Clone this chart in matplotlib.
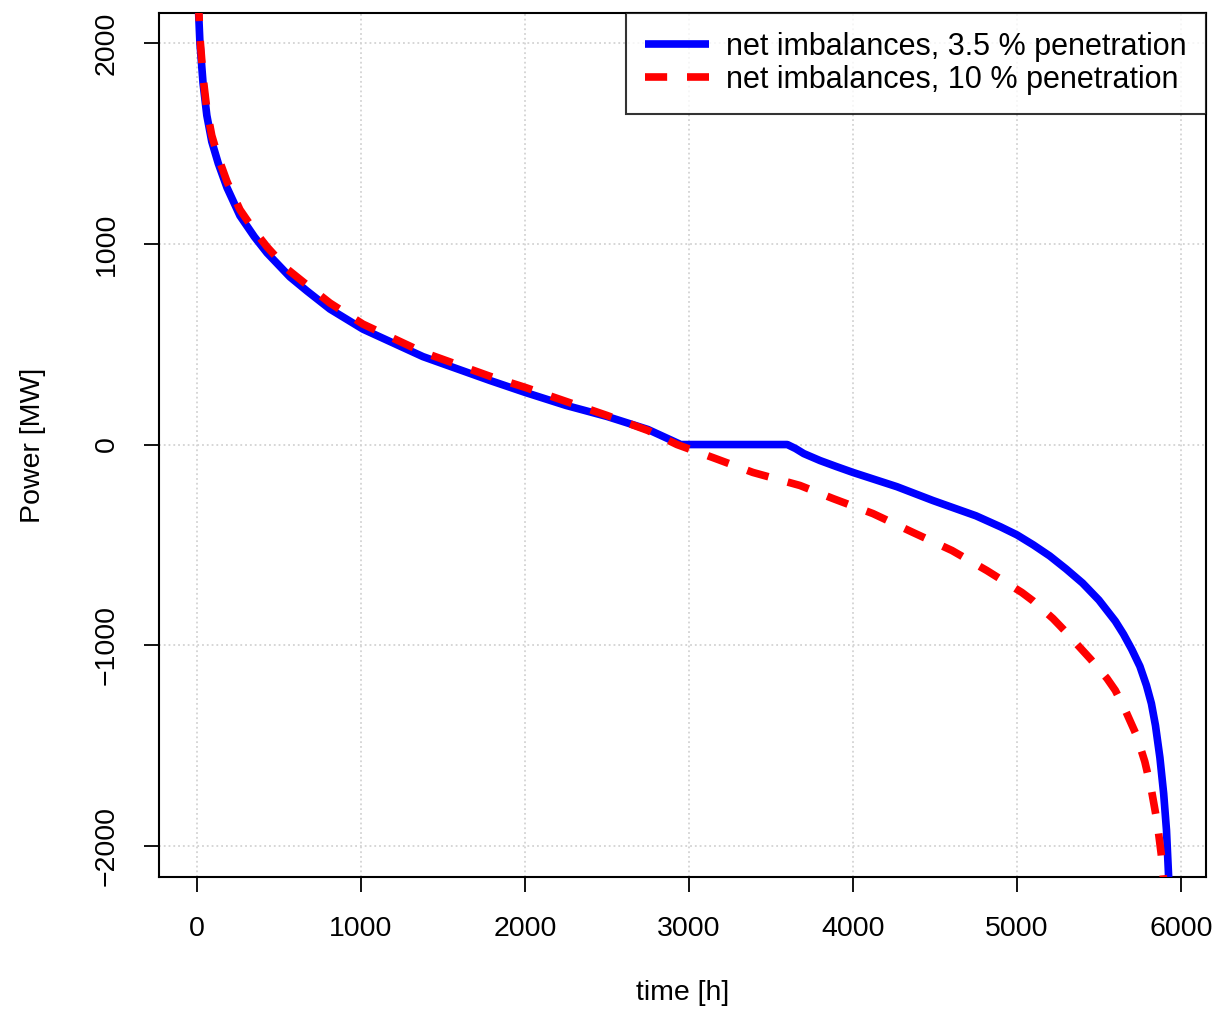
import matplotlib
matplotlib.use("Agg")
import matplotlib.pyplot as plt

plt.rcParams['font.family'] = ['Liberation Sans', 'DejaVu Sans']

# duration curves (hours, MW)
hours_35 = [0, 10, 18, 37, 60, 90, 130, 183, 262, 350, 427, 567, 671, 811, 1012, 1378,
            1787, 2000, 2250, 2500, 2750, 2950, 3600, 3650, 3700, 3800, 3900, 4000,
            4268, 4488, 4750, 4900, 5000, 5100, 5200, 5300, 5400, 5500, 5600, 5650,
            5700, 5750, 5790, 5820, 5845, 5872, 5895, 5912, 5925, 5935]
power_35 = [2600, 2150, 2000, 1800, 1640, 1510, 1400, 1280, 1140, 1035, 955, 835, 765,
            675, 575, 438, 319, 260, 195, 140, 75, 0, 0, -20, -45, -80, -110, -139,
            -210, -279, -355, -410, -450, -500, -555, -620, -690, -775, -880, -945,
            -1020, -1105, -1200, -1290, -1400, -1560, -1740, -1920, -2150, -2400]

hours_10 = [0, 10, 18, 37, 60, 90, 130, 183, 262, 350, 427, 549, 671, 811, 1012, 1378,
            1787, 2000, 2250, 2500, 2750, 2927, 3146, 3390, 3677, 3878, 4122, 4366,
            4604, 4817, 5030, 5100, 5220, 5300, 5384, 5450, 5549, 5600, 5659, 5730,
            5780, 5820, 5855, 5880, 5898, 5910]
power_10 = [2600, 2180, 2030, 1830, 1670, 1540, 1430, 1310, 1170, 1065, 985, 875, 795,
            705, 600, 460, 340, 285, 215, 145, 70, 0, -65, -139, -204, -269, -344,
            -438, -528, -628, -737, -780, -867, -935, -1011, -1070, -1165, -1225,
            -1320, -1450, -1580, -1720, -1880, -2040, -2200, -2350]

label_35 = "net imbalances, 3.5 % penetration"
label_10 = "net imbalances, 10 % penetration"

fig = plt.figure(figsize=(12.18, 10.11), dpi=100)
ax = fig.add_axes([0.1305, 0.1325, 0.8595, 0.8546])

ax.plot(hours_35, power_35, color="blue", lw=5.5, label=label_35,
        solid_capstyle="butt", solid_joinstyle="round", zorder=3)
ax.plot(hours_10, power_10, color="red", lw=5.5, linestyle=(0, (2.9, 2.6)),
        dash_capstyle="butt", label=label_10, zorder=4)

ax.set_xlim(-232, 6152)
ax.set_ylim(-2155, 2150)
ax.set_xticks([0, 1000, 2000, 3000, 4000, 5000, 6000])
ax.set_yticks([-2000, -1000, 0, 1000, 2000])

ax.grid(True, color="lightgray", linestyle=":", lw=1.3)
ax.set_axisbelow(True)

for s in ax.spines.values():
    s.set_linewidth(1.5)
ax.tick_params(direction="out", length=11, width=1.3, labelsize=20.5, pad=17)
plt.setp(ax.get_yticklabels(), rotation=90, va="center")

ax.set_xlabel("time [h]", fontsize=20.5)
ax.set_ylabel("Power [MW]", fontsize=20.5)
ax.xaxis.label.set_va("center")
ax.yaxis.label.set_va("center")
ax.xaxis.set_label_coords(0.5, -0.134)
ax.yaxis.set_label_coords(-0.1203, 0.5)

leg = ax.legend(loc="upper right", fontsize=22, frameon=True, fancybox=False,
                borderaxespad=0, handlelength=2.1, handletextpad=0.55,
                labelspacing=0.1, borderpad=0.62)
leg.get_frame().set_edgecolor("black")
leg.get_frame().set_linewidth(1.5)

fig.savefig("out.png", dpi=100)
